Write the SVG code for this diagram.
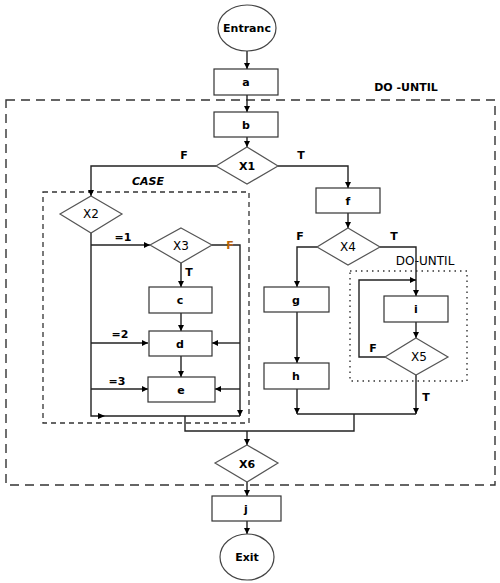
<svg xmlns="http://www.w3.org/2000/svg" width="500" height="583" viewBox="0 0 500 583">
<defs>
<marker id="ah" viewBox="0 0 10 10" refX="10" refY="5" markerWidth="6" markerHeight="6" markerUnits="userSpaceOnUse" orient="auto"><path d="M0,0 L10,5 L0,10 z" fill="#000"/></marker>
<style>
.box{fill:#fff;stroke:#333;stroke-width:1.2}
.dia{fill:#fff;stroke:#555;stroke-width:1.2}
.ell{fill:#fff;stroke:#444;stroke-width:1.2}
.c{fill:none;stroke:#222;stroke-width:1.4}
.a{marker-end:url(#ah)}
.t{font-family:"DejaVu Sans",Verdana,sans-serif;font-size:12px;fill:#000;text-anchor:middle;dominant-baseline:central}
.b{font-weight:bold;font-size:11px}
.l{font-family:"DejaVu Sans",Verdana,sans-serif;font-size:11px;font-weight:bold;fill:#000;text-anchor:middle;dominant-baseline:central}
</style>
</defs>
<rect x="6" y="100" width="489" height="385" fill="none" stroke="#333" stroke-width="1.4" stroke-dasharray="9,6"/>
<text class="l" x="406" y="87">DO -UNTIL</text>
<rect x="43" y="192" width="206" height="231" fill="none" stroke="#333" stroke-width="1.3" stroke-dasharray="5,4"/>
<text class="l" x="148" y="181" font-style="italic">CASE</text>
<rect x="350" y="271" width="117" height="110" fill="none" stroke="#333" stroke-width="1.4" stroke-dasharray="1.5,4"/>
<text class="t" x="425" y="261">DO-UNTIL</text>
<g id="connectors">
<path class="c a" d="M247,51 V69"/>
<path class="c a" d="M247,95 V112"/>
<path class="c a" d="M247,137 V147"/>
<path class="c a" d="M216,166 H91 V196"/>
<path class="c a" d="M278,166 H348 V188"/>
<path class="c" d="M91,233 V416 H240"/>
<path d="M98,413 L105,416 L98,419 z" fill="#000"/>
<path class="c a" d="M91,245 H150"/>
<path class="c a" d="M91,343 H148"/>
<path class="c a" d="M91,389 H148"/>
<path class="c a" d="M212,245 H240 V416"/>
<path class="c a" d="M240,343 H212"/>
<path class="c a" d="M240,389 H215"/>
<path class="c a" d="M181,263 V287"/>
<path class="c a" d="M181,313 V331"/>
<path class="c a" d="M181,356 V377"/>
<path class="c" d="M185,416 V431 H354 V414"/>
<path class="c a" d="M247,431 V445"/>
<path class="c a" d="M348,213 V228"/>
<path class="c a" d="M317,247 H297 V287"/>
<path class="c a" d="M297,312 V363"/>
<path class="c a" d="M297,389 V414"/>
<path class="c" d="M297,414 H416"/>
<path class="c a" d="M380,247 H416 V296"/>
<path class="c a" d="M416,322 V338"/>
<path class="c a" d="M385,357 H359 V280 H416"/>
<path class="c a" d="M416,375 V414"/>
<path class="c a" d="M247,482 V496"/>
<path class="c a" d="M247,521 V534"/>
</g>
<text class="l" x="184" y="155">F</text>
<text class="l" x="301" y="155">T</text>
<text class="l" x="123" y="237">=1</text>
<text class="l" x="120" y="334">=2</text>
<text class="l" x="117" y="381">=3</text>
<text class="l" x="230" y="245" style="fill:#b8620a">F</text>
<text class="l" x="189" y="272">T</text>
<text class="l" x="300" y="236">F</text>
<text class="l" x="394" y="236">T</text>
<text class="l" x="373" y="348">F</text>
<text class="l" x="426" y="397">T</text>
<g id="entranc"><ellipse class="ell" cx="247" cy="28" rx="29" ry="23"/><text class="l" x="247" y="28">Entranc</text></g>
<g id="a"><rect class="box" x="214" y="69" width="64" height="26"/><text class="l" x="246" y="82">a</text></g>
<g id="b"><rect class="box" x="214" y="112" width="64" height="25"/><text class="l" x="246" y="125">b</text></g>
<g id="x1"><path class="dia" d="M247,147 L278,166 L247,184 L216,166 z"/><text class="t b" x="247" y="166">X1</text></g>
<g id="x2"><path class="dia" d="M91,196 L122,214 L91,233 L60,214 z"/><text class="t" x="91" y="214">X2</text></g>
<g id="x3"><path class="dia" d="M181,228 L212,245 L181,263 L150,245 z"/><text class="t" x="181" y="246">X3</text></g>
<g id="c"><rect class="box" x="149" y="287" width="63" height="26"/><text class="l" x="180" y="300">c</text></g>
<g id="d"><rect class="box" x="149" y="331" width="63" height="25"/><text class="l" x="180" y="344">d</text></g>
<g id="e"><rect class="box" x="148" y="377" width="67" height="25"/><text class="l" x="181" y="390">e</text></g>
<g id="f"><rect class="box" x="316" y="188" width="64" height="25"/><text class="l" x="348" y="201">f</text></g>
<g id="x4"><path class="dia" d="M348,228 L380,247 L348,265 L317,247 z"/><text class="t" x="348" y="247">X4</text></g>
<g id="g"><rect class="box" x="264" y="287" width="65" height="25"/><text class="l" x="296" y="300">g</text></g>
<g id="h"><rect class="box" x="264" y="363" width="65" height="26"/><text class="l" x="296" y="376">h</text></g>
<g id="i"><rect class="box" x="384" y="296" width="64" height="26"/><text class="l" x="416" y="309">i</text></g>
<g id="x5"><path class="dia" d="M416,338 L448,357 L416,375 L385,357 z"/><text class="t" x="419" y="357">X5</text></g>
<g id="x6"><path class="dia" d="M247,445 L278,463 L247,482 L215,463 z"/><text class="t b" x="247" y="464">X6</text></g>
<g id="j"><rect class="box" x="212" y="496" width="69" height="25"/><text class="l" x="246" y="509">j</text></g>
<g id="exit"><ellipse class="ell" cx="247" cy="557" rx="27" ry="23"/><text class="l" x="247" y="557">Exit</text></g>
</svg>
